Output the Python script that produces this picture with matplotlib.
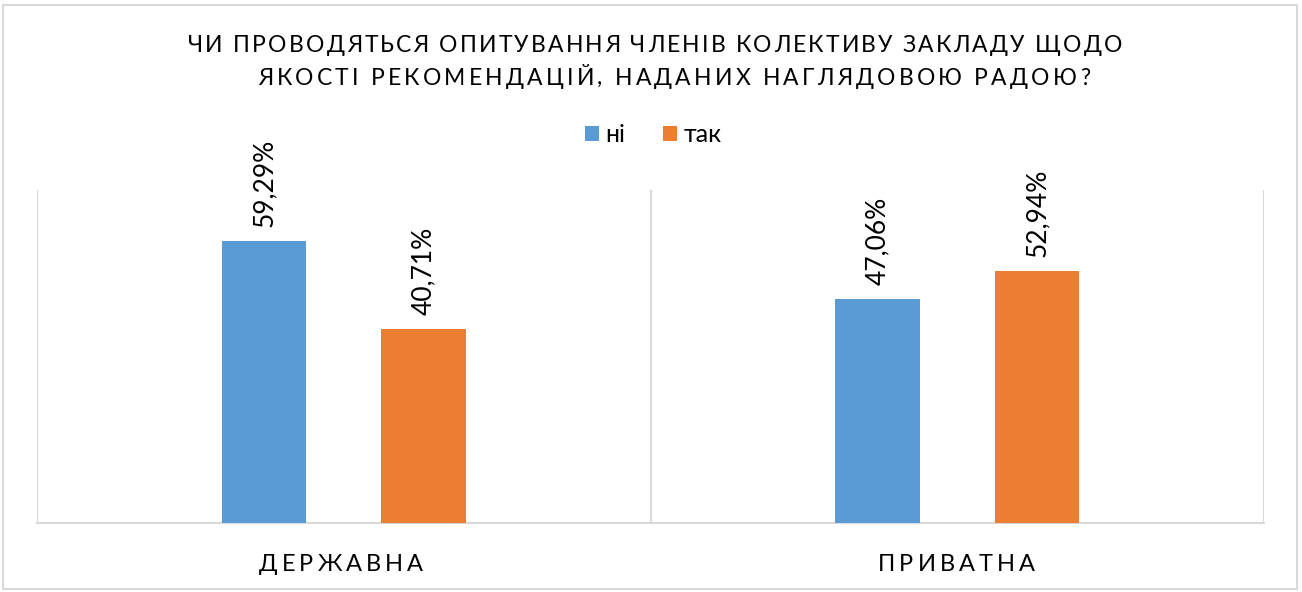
import matplotlib
matplotlib.use("Agg")
import matplotlib.pyplot as plt
import numpy as np
from matplotlib.font_manager import FontProperties
from matplotlib.patches import Rectangle

categories = ["ДЕРЖАВНА", "ПРИВАТНА"]
series_names = ["ні", "так"]
ni_values = [59.29, 47.06]
tak_values = [40.71, 52.94]
value_labels_ni = ["59,29%", "47,06%"]
value_labels_tak = ["40,71%", "52,94%"]
title_lines = ["ЧИ ПРОВОДЯТЬСЯ ОПИТУВАННЯ ЧЛЕНІВ КОЛЕКТИВУ ЗАКЛАДУ ЩОДО",
               "ЯКОСТІ РЕКОМЕНДАЦІЙ, НАДАНИХ НАГЛЯДОВОЮ РАДОЮ?"]

BLUE = "#5B9BD5"
ORANGE = "#ED7D31"
GRID = "#D9D9D9"
TEXT = "#000000"
FAM = "Lato"

W, H = 1302, 592
fig = plt.figure(figsize=(W / 100, H / 100), dpi=100)
fig.patch.set_facecolor("white")

# outer border
fig.patches.append(Rectangle((3 / W, 3 / H), 1294 / W, 584 / H, transform=fig.transFigure,
                             fill=False, edgecolor=GRID, linewidth=1.5))

ax = fig.add_axes([37 / W, (H - 523) / H, (1264 - 37) / W, (523 - 190) / H])
x = np.arange(len(categories))
bw = 0.137
off = 0.13
b1 = ax.bar(x - off, ni_values, bw, color=BLUE, label=series_names[0], zorder=3)
b2 = ax.bar(x + off, tak_values, bw, color=ORANGE, label=series_names[1], zorder=3)
ax.set_xlim(-0.5, len(categories) - 0.5)
ax.set_ylim(0, 70)

for spine in ["top", "left", "right"]:
    ax.spines[spine].set_visible(False)
ax.spines["bottom"].set_color(GRID)
ax.spines["bottom"].set_linewidth(1.5)
ax.set_yticks([])
ax.set_xticks([])
for xv in np.arange(-0.5, len(categories), 1.0):
    ax.axvline(xv, color=GRID, linewidth=1.5, zorder=1)

for bars, labs in ((b1, value_labels_ni), (b2, value_labels_tak)):
    for rect, lab in zip(bars, labs):
        ax.annotate(lab, (rect.get_x() + rect.get_width() / 2, rect.get_height()),
                    xytext=(0, 10), textcoords="offset points", rotation=90,
                    ha="center", va="bottom", fontsize=19, family=FAM, color=TEXT)

leg = fig.legend(handles=[b1, b2], labels=series_names, loc="center",
                 bbox_to_anchor=(653 / W, 1 - 135 / H), ncol=2, frameon=False,
                 handlelength=0.58, handleheight=0.58,
                 handletextpad=0.25, columnspacing=1.5, prop={"family": FAM, "size": 18})

renderer = fig.canvas.get_renderer()


def spaced_text(s, cx_px, base_px, size, target_w):
    fp = FontProperties(family=FAM, size=size)
    widths = []
    for ch in s:
        w, h, d = renderer.get_text_width_height_descent(ch, fp, ismath=False)
        widths.append(w)
    total = sum(widths)
    sp = (target_w - total) / (len(s) - 1)
    xpos = cx_px - target_w / 2
    for ch, w in zip(s, widths):
        fig.text(xpos / W, 1 - base_px / H, ch, fontproperties=fp, ha="left",
                 va="baseline", color=TEXT)
        xpos += w + sp


spaced_text(title_lines[0], 655, 52, 16.5, 934)
spaced_text(title_lines[1], 674, 85, 16.5, 832)
spaced_text(categories[0], 341, 571, 17, 164)
spaced_text(categories[1], 956.5, 571, 17, 157)

fig.savefig("out.png", dpi=100, facecolor="white")
